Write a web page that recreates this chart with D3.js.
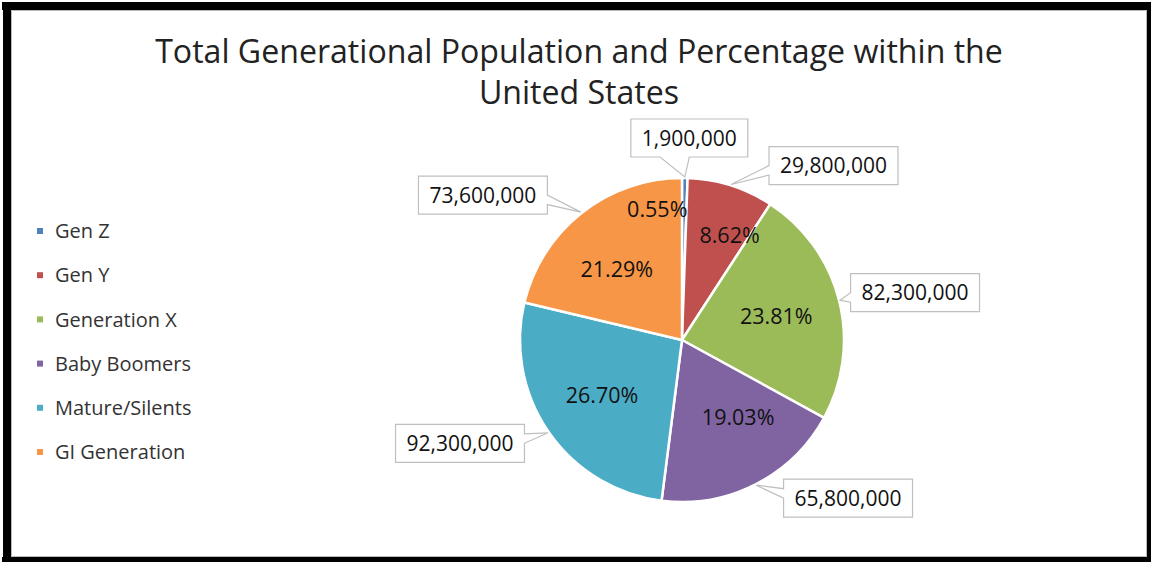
<!DOCTYPE html>
<html><head><meta charset="utf-8">
<script src="https://cdn.jsdelivr.net/npm/d3@7"></script>
<style>body{margin:0;background:#fff} svg{display:block}</style>
</head><body>
<svg id="chart" width="1151" height="562"></svg>
<script>
// ---- data ----
const categories = ["Gen Z","Gen Y","Generation X","Baby Boomers","Mature/Silents","GI Generation"];
const populations = [1900000, 29800000, 82300000, 65800000, 92300000, 73600000];
const colors = ["#4F81BD","#C0504D","#9BBB59","#8064A2","#4BACC6","#F79646"];
const titleLines = ["Total Generational Population and Percentage within the","United States"];

// ---- layout ----
const W = 1151, H = 562;
const FONT = "'Open Sans', sans-serif";
const cx = 682, cy = 340, R = 162;
// label nudges (layout only)
const pctNudge = {
  "Gen Z": {rf: 0.81, dx: -27, dy: 0},
  "Gen Y": {rf: 0.71, dx: 13, dy: 5},
  "Baby Boomers": {rf: 0.6, dx: 12, dy: -9},
  "GI Generation": {rf: 0.6, dx: -5, dy: 6}
};
const boxOffset = {
  "Gen Z": [4.5, -39],
  "Gen Y": [102.5, -19],
  "Generation X": [75, -7.5],
  "Baby Boomers": [92, 13],
  "Mature/Silents": [-88, 10.5],
  "GI Generation": [-98, -17]
};

const svg = d3.select("#chart");
svg.append("rect").attr("width", W).attr("height", H).attr("fill", "#fff");

// border
const border = svg.append("g").attr("fill", "#000");
border.append("rect").attr("x", 2).attr("y", 2).attr("width", 1149).attr("height", 8);
border.append("rect").attr("x", 3).attr("y", 2).attr("width", 8).attr("height", 560);
border.append("rect").attr("x", 1147).attr("y", 2).attr("width", 4).attr("height", 560);
border.append("rect").attr("x", 2).attr("y", 557).attr("width", 1149).attr("height", 5);
svg.append("rect").attr("x", 11.5).attr("y", 10.5).attr("width", 1135).attr("height", 546)
  .attr("fill", "none").attr("stroke", "#bbb").attr("stroke-width", 1);

// title
const title = svg.append("g").attr("font-family", FONT).attr("fill", "#222").attr("text-anchor", "middle");
const t1 = title.append("text").attr("x", 579).attr("y", 63).attr("font-size", 28).text(titleLines[0]);
const w1 = t1.node().getComputedTextLength();
const tSize = 28 * 848 / w1;
t1.attr("font-size", tSize);
title.append("text").attr("x", 579).attr("y", 104).attr("font-size", tSize).text(titleLines[1]);

// data
const data = categories.map((c, i) => ({cat: c, value: populations[i], color: colors[i]}));
const total = d3.sum(populations);
const fmtPct = d3.format(".2%");
const fmtNum = d3.format(",");

const pie = d3.pie().value(d => d.value).sort(null).startAngle(0).endAngle(2 * Math.PI);
const arcs = pie(data);
const arc = d3.arc().innerRadius(0).outerRadius(R);
const pt = (a, r) => [cx + r * Math.sin(a), cy - r * Math.cos(a)];

const g = svg.append("g");
g.selectAll("path.slice").data(arcs).join("path")
  .attr("class", "slice")
  .attr("transform", `translate(${cx},${cy})`)
  .attr("d", arc)
  .attr("fill", d => d.data.color)
  .attr("stroke", "#fff").attr("stroke-width", 2.5).attr("stroke-linejoin", "round");

// percentage labels
g.selectAll("text.pct").data(arcs).join("text")
  .attr("class", "pct")
  .attr("font-family", FONT).attr("font-size", 21.5).attr("fill", "#111")
  .attr("text-anchor", "middle")
  .each(function(d) {
    const n = pctNudge[d.data.cat] || {rf: 0.6, dx: 0, dy: 0};
    const mid = (d.startAngle + d.endAngle) / 2;
    const [x, y] = pt(mid, R * n.rf);
    d3.select(this).attr("x", x + n.dx).attr("y", y + n.dy).attr("dy", "0.36em");
  })
  .text(d => fmtPct(d.value / total));

// callouts with values
function calloutPath(x0, y0, w, h, tx, ty, side) {
  const x1 = x0 + w, y1 = y0 + h, mx = x0 + w / 2, my = y0 + h / 2;
  const p = [[x0, y0]];
  const span = (c, t, len) => { const s = t < c ? -1 : 1; const a = c, b = c + s * len / 4; return [Math.min(a, b), Math.max(a, b)]; };
  if (side === "top") { const [lo, hi] = span(mx, tx, w); p.push([lo, y0], [tx, ty], [hi, y0]); }
  p.push([x1, y0]);
  if (side === "right") { const [lo, hi] = span(my, ty, h); p.push([x1, lo], [tx, ty], [x1, hi]); }
  p.push([x1, y1]);
  if (side === "bottom") { const [lo, hi] = span(mx, tx, w); p.push([hi, y1], [tx, ty], [lo, y1]); }
  p.push([x0, y1]);
  if (side === "left") { const [lo, hi] = span(my, ty, h); p.push([x0, hi], [tx, ty], [x0, lo]); }
  return "M" + p.map(q => q.join(",")).join("L") + "Z";
}

const cg = svg.append("g");
arcs.forEach(d => {
  const mid = (d.startAngle + d.endAngle) / 2;
  const [tx, ty] = pt(mid, R + 1);
  const off = boxOffset[d.data.cat];
  const bx = tx + off[0], by = ty + off[1];
  const grp = cg.append("g");
  const path = grp.append("path");
  const txt = grp.append("text")
    .attr("font-family", FONT).attr("font-size", 21).attr("fill", "#111")
    .attr("text-anchor", "middle").attr("x", bx).attr("y", by).attr("dy", "0.36em")
    .text(fmtNum(d.value));
  const tw = txt.node().getComputedTextLength();
  const w = tw + 22, h = 38;
  const x0 = bx - w / 2, y0 = by - h / 2;
  let side;
  if (tx >= x0 && tx <= x0 + w) side = ty > y0 + h ? "bottom" : "top";
  else side = tx < x0 ? "left" : "right";
  path.attr("d", calloutPath(x0, y0, w, h, tx, ty, side))
    .attr("fill", "#fff").attr("stroke", "#bfbfbf").attr("stroke-width", 1.2);
});

// legend
const lg = svg.append("g").attr("font-family", FONT).attr("font-size", 20).attr("fill", "#333");
const ly = d3.scalePoint().domain(categories).range([231, 452]);
categories.forEach((c, i) => {
  const y = ly(c);
  lg.append("rect").attr("x", 37).attr("y", y - 3).attr("width", 6).attr("height", 6).attr("fill", colors[i]);
  lg.append("text").attr("x", 55).attr("y", y).attr("dy", "0.36em").text(c);
});
</script>
</body></html>
